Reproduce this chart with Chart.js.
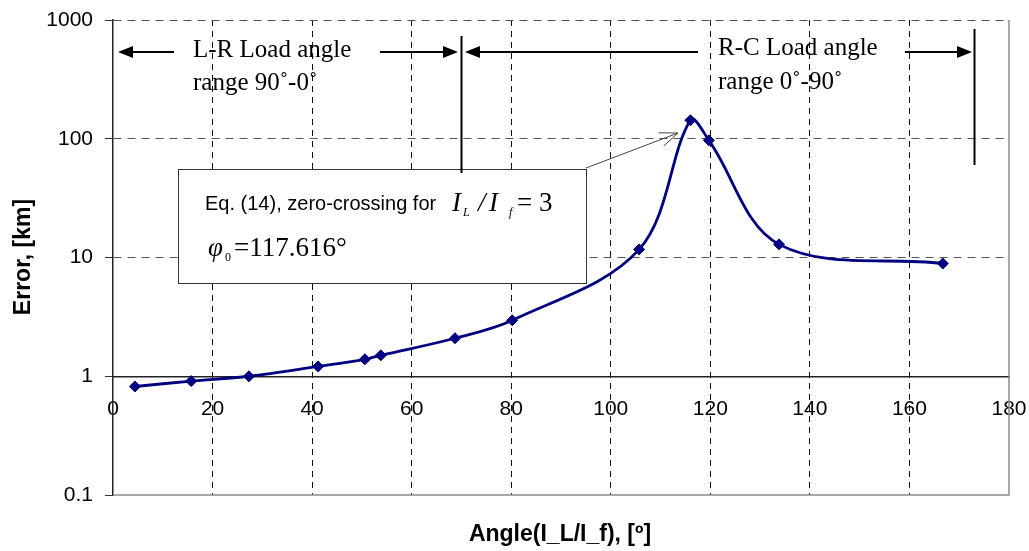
<!DOCTYPE html>
<html>
<head>
<meta charset="utf-8">
<script src="https://cdn.jsdelivr.net/npm/chart.js@4.4.0/dist/chart.umd.min.js"></script>
<style>
  body { margin: 0; background: #fff; }
  #wrap { width: 1029px; height: 551px; }
</style>
</head>
<body>
<div id="wrap"><canvas id="chart" width="1029" height="551"></canvas></div>
<script>
// values
const angles = [4.4, 15.7, 27.3, 41.2, 50.6, 53.8, 68.7, 80.2, 105.7, 116.0, 119.7, 133.8, 166.7];
const errors = [0.82, 0.91, 1.0, 1.21, 1.39, 1.5, 2.09, 2.96, 11.7, 143, 97, 12.9, 8.9];
const xTicks = [0, 20, 40, 60, 80, 100, 120, 140, 160, 180];
const yTicks = [0.1, 1, 10, 100, 1000];
const xTitle = "Angle(I_L/I_f), [º]";
const yTitle = "Error, [km]";

const sans = "'Liberation Sans', Arial, sans-serif";
const serif = "'Liberation Serif', 'Times New Roman', serif";
const navy = "#000080";

const arrow = (ctx, x1, y1, x2, y2, len, half, filled) => {
  const a = Math.atan2(y2 - y1, x2 - x1);
  ctx.beginPath();
  ctx.moveTo(x1, y1);
  ctx.lineTo(filled ? x2 - Math.cos(a) * len * 0.8 : x2, filled ? y2 - Math.sin(a) * len * 0.8 : y2);
  ctx.stroke();
  const bx = x2 - Math.cos(a) * len, by = y2 - Math.sin(a) * len;
  const px = -Math.sin(a) * half, py = Math.cos(a) * half;
  ctx.beginPath();
  if (filled) {
    ctx.moveTo(x2, y2);
    ctx.lineTo(bx + px, by + py);
    ctx.lineTo(bx - px, by - py);
    ctx.closePath();
    ctx.fill();
  } else {
    ctx.moveTo(bx + px, by + py);
    ctx.lineTo(x2, y2);
    ctx.lineTo(bx - px, by - py);
    ctx.stroke();
  }
};

// keep tick labels from pushing the plot area inwards
const noPadding = (scale) => {
  scale.paddingLeft = 0;
  scale.paddingRight = 0;
  scale.paddingTop = 0;
  scale.paddingBottom = 0;
};

const extras = {
  id: "extras",
  beforeDatasetsDraw(chart) {
    const { ctx, chartArea: a } = chart;
    // plot frame: right and bottom edges
    ctx.save();
    ctx.strokeStyle = "#8c8c8c";
    ctx.lineWidth = 1.5;
    ctx.beginPath();
    ctx.moveTo(a.left, a.bottom);
    ctx.lineTo(a.right, a.bottom);
    ctx.lineTo(a.right, a.top);
    ctx.stroke();
    ctx.restore();
  },
  afterDraw(chart) {
    const { ctx } = chart;
    ctx.save();
    // axis titles
    ctx.fillStyle = "#000";
    ctx.font = "bold 23px " + sans;
    ctx.textAlign = "center";
    ctx.textBaseline = "middle";
    ctx.fillText(xTitle, 560, 535);
    ctx.save();
    ctx.translate(24, 257);
    ctx.rotate(-Math.PI / 2);
    ctx.fillText(yTitle, 0, 0);
    ctx.restore();

    // annotation box
    ctx.fillStyle = "#fff";
    ctx.fillRect(178.5, 169.5, 408, 114);
    ctx.strokeStyle = "#333";
    ctx.lineWidth = 1;
    ctx.strokeRect(178.5, 169.5, 408, 114);
    ctx.fillStyle = "#000";
    ctx.textAlign = "left";
    ctx.textBaseline = "alphabetic";
    ctx.font = "20px " + sans;
    ctx.fillText("Eq. (14), zero-crossing for", 205, 210);
    ctx.font = "italic 27px " + serif;
    ctx.fillText("I", 452, 211);
    ctx.fillText("/", 478, 211);
    ctx.fillText("I", 489, 211);
    ctx.font = "italic 12px " + serif;
    ctx.fillText("L", 463, 216);
    ctx.fillText("f", 509, 216);
    ctx.font = "27px " + serif;
    ctx.fillText("= 3", 517, 211);
    ctx.font = "italic 27px " + serif;
    ctx.fillText("φ", 208, 256);
    ctx.font = "12px " + serif;
    ctx.fillText("0", 225, 261);
    ctx.font = "27px " + serif;
    ctx.fillText("=117.616°", 234, 256);

    // leader arrow to the peak
    ctx.strokeStyle = "#444";
    ctx.lineWidth = 1;
    arrow(ctx, 586, 168, 678, 133, 18, 7, false);

    // load angle range markers
    ctx.strokeStyle = "#000";
    ctx.fillStyle = "#000";
    ctx.lineWidth = 2;
    ctx.beginPath();
    ctx.moveTo(461.5, 36);
    ctx.lineTo(461.5, 173);
    ctx.moveTo(974.5, 29);
    ctx.lineTo(974.5, 165);
    ctx.stroke();
    arrow(ctx, 174, 52, 118, 52, 15, 6, true);
    arrow(ctx, 380, 52, 458, 52, 15, 6, true);
    arrow(ctx, 698, 52, 465, 52, 15, 6, true);
    arrow(ctx, 905, 52, 972, 52, 15, 6, true);

    ctx.font = "25px " + serif;
    ctx.fillText("L-R Load angle", 193, 57);
    ctx.fillText("range 90˚-0˚", 193, 90);
    ctx.fillText("R-C Load angle", 718, 55);
    ctx.fillText("range 0˚-90˚", 718, 89);
    ctx.restore();
  },
};

new Chart(document.querySelector("#chart"), {
  type: "line",
  data: {
    datasets: [
      {
        data: angles.map((a, i) => ({ x: a, y: errors[i] })),
        borderColor: navy,
        backgroundColor: navy,
        borderWidth: 2.8,
        pointStyle: "rectRot",
        pointRadius: 5.5,
        pointBorderWidth: 1,
        tension: 0.35,
        clip: false,
      },
    ],
  },
  options: {
    responsive: false,
    animation: false,
    layout: { padding: { top: 20, right: 20, bottom: 56, left: 0 } },
    plugins: { legend: { display: false }, tooltip: { enabled: false } },
    scales: {
      x: {
        type: "linear",
        min: 0,
        max: 180,
        position: { y: 1 },
        afterBuildTicks: (scale) => {
          scale.ticks = xTicks.map((v) => ({ value: v }));
        },
        afterFit: noPadding,
        ticks: {
          color: "#000",
          font: { family: sans, size: 21 },
          padding: 20,
          maxRotation: 0,
        },
        grid: {
          color: (c) => (c.tick && (c.tick.value === 0 || c.tick.value === 180) ? "rgba(0,0,0,0)" : "#111"),
          lineWidth: 1,
          drawTicks: false,
        },
        border: { display: true, color: "#222", width: 1.5, dash: [6, 5] },
      },
      y: {
        type: "logarithmic",
        min: 0.1,
        max: 1000,
        afterFit: (scale) => {
          scale.width = 113;
          noPadding(scale);
        },
        afterBuildTicks: (scale) => {
          scale.ticks = yTicks.map((v) => ({ value: v }));
        },
        ticks: {
          color: "#000",
          font: { family: sans, size: 21 },
          padding: 12,
          callback: (v) => String(v),
        },
        grid: {
          color: (c) => (c.tick && c.tick.value <= 1 ? "rgba(0,0,0,0)" : "#555"),
          tickColor: "#333",
          tickLength: 8,
          tickBorderDash: [],
          lineWidth: 1,
        },
        border: { display: true, color: "#222", width: 1.5, dash: [8, 6] },
      },
    },
  },
  plugins: [extras],
});
</script>
</body>
</html>
